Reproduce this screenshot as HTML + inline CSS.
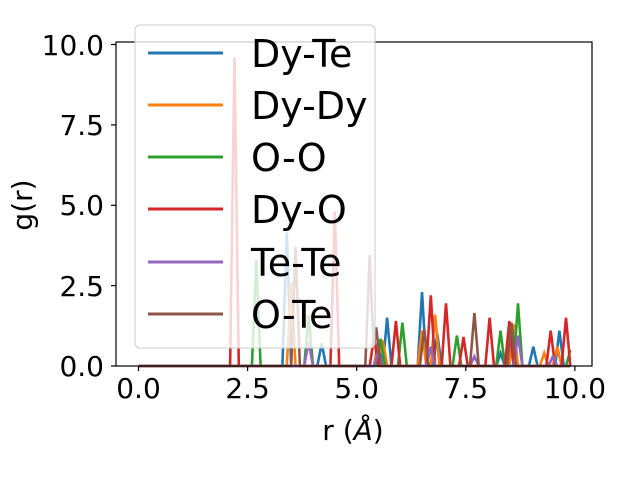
<!DOCTYPE html>
<html><head><style>
html,body{margin:0;padding:0;background:#fff;}
svg{display:block;font-family:"DejaVu Sans","Liberation Sans",sans-serif;}
</style></head><body>
<svg id="s" width="640" height="480" xmlns="http://www.w3.org/2000/svg">
<rect width="640" height="480" fill="#fff"/>
<g id="lines"></g>
<rect x="116" y="42" width="476" height="324" fill="none" stroke="#000" stroke-width="1.2"/>
<g stroke="#000" stroke-width="1.2">
<line x1="138.5" y1="366" x2="138.5" y2="371"/>
<line x1="247.6" y1="366" x2="247.6" y2="371"/>
<line x1="356.7" y1="366" x2="356.7" y2="371"/>
<line x1="465.8" y1="366" x2="465.8" y2="371"/>
<line x1="574.9" y1="366" x2="574.9" y2="371"/>
<line x1="111" y1="366" x2="116" y2="366"/>
<line x1="111" y1="285.6" x2="116" y2="285.6"/>
<line x1="111" y1="205.3" x2="116" y2="205.3"/>
<line x1="111" y1="124.9" x2="116" y2="124.9"/>
<line x1="111" y1="44.5" x2="116" y2="44.5"/>
</g>
<g font-size="28" fill="#000" text-anchor="middle">
<text x="138.5" y="398">0.0</text>
<text x="247.6" y="398">2.5</text>
<text x="356.7" y="398">5.0</text>
<text x="465.8" y="398">7.5</text>
<text x="574.9" y="398">10.0</text>
</g>
<g font-size="28" fill="#000" text-anchor="end">
<text x="104" y="376">0.0</text>
<text x="104" y="296">2.5</text>
<text x="104" y="215">5.0</text>
<text x="104" y="135">7.5</text>
<text x="104" y="55">10.0</text>
</g>
<text x="353" y="440" font-size="28" text-anchor="middle">r (<tspan font-style="italic">Å</tspan>)</text>
<text transform="translate(32,205) rotate(-90)" font-size="28" text-anchor="middle">g(r)</text>
<rect x="135" y="25" width="240" height="323" rx="5" fill="#fff" fill-opacity="0.8" stroke="#ccc" stroke-width="1"/>
<g stroke-width="3">
<line x1="148" y1="53" x2="223" y2="53" stroke="#1f77b4"/>
<line x1="148" y1="105" x2="223" y2="105" stroke="#ff7f0e"/>
<line x1="148" y1="157" x2="223" y2="157" stroke="#2ca02c"/>
<line x1="148" y1="209" x2="223" y2="209" stroke="#d62728"/>
<line x1="148" y1="262" x2="223" y2="262" stroke="#9467bd"/>
<line x1="148" y1="314" x2="223" y2="314" stroke="#8c564b"/>
</g>
<g font-size="38" fill="#000">
<text x="251" y="67">Dy-Te</text>
<text x="251" y="119">Dy-Dy</text>
<text x="251" y="171">O-O</text>
<text x="251" y="223">Dy-O</text>
<text x="251" y="276">Te-Te</text>
<text x="251" y="328">O-Te</text>
</g>
</svg>
<script>
var series=[
["#1f77b4",[[3.4,4.15],[4.2,0.7],[5.5,0.7],[5.7,1.5],[6.5,2.3],[6.85,1.0],[8.3,0.4],[9.05,0.6],[9.65,1.1]]],
["#ff7f0e",[[3.5,2.6],[5.5,0.8],[5.6,0.8],[6.5,1.1],[6.8,1.6],[8.6,1.3],[9.3,0.4],[9.6,0.6]]],
["#2ca02c",[[2.7,3.3],[3.9,1.6],[5.55,0.85],[6.05,1.35],[7.3,0.95],[8.3,1.1],[8.7,1.95],[9.9,0.5]]],
["#d62728",[[2.2,9.6],[4.5,4.8],[5.4,0.9],[5.9,1.4],[6.7,2.2],[7.05,1.95],[7.45,0.9],[8.05,1.5],[8.5,1.4],[9.45,1.1],[9.8,1.5]]],
["#9467bd",[[3.9,0.75],[5.5,0.45],[6.7,0.6],[7.7,0.3],[8.7,0.95],[9.5,0.3]]],
["#8c564b",[[3.6,3.7],[5.3,3.45],[5.45,1.2],[6.55,1.15],[7.7,1.65],[8.55,1.35]]]];
var X=function(r){return 138.5+r*43.62;},Y=function(v){return 366-v*32.14;};
var g=document.getElementById('lines'),ns="http://www.w3.org/2000/svg";
series.forEach(function(s){
 var pts=[];
 for(var i=0;i<=198;i++){var r=i*0.05,v=0;
  s[1].forEach(function(p){var d=Math.abs(r-p[0]);if(d<0.1){v=Math.max(v,p[1]*(1-d/0.1));}});
  pts.push(X(r).toFixed(1)+","+Y(v).toFixed(1));}
 var pl=document.createElementNS(ns,"polyline");
 pl.setAttribute("points",pts.join(" "));pl.setAttribute("fill","none");
 pl.setAttribute("stroke",s[0]);pl.setAttribute("stroke-width","2.6");
 g.appendChild(pl);
});
</script>
</body></html>
